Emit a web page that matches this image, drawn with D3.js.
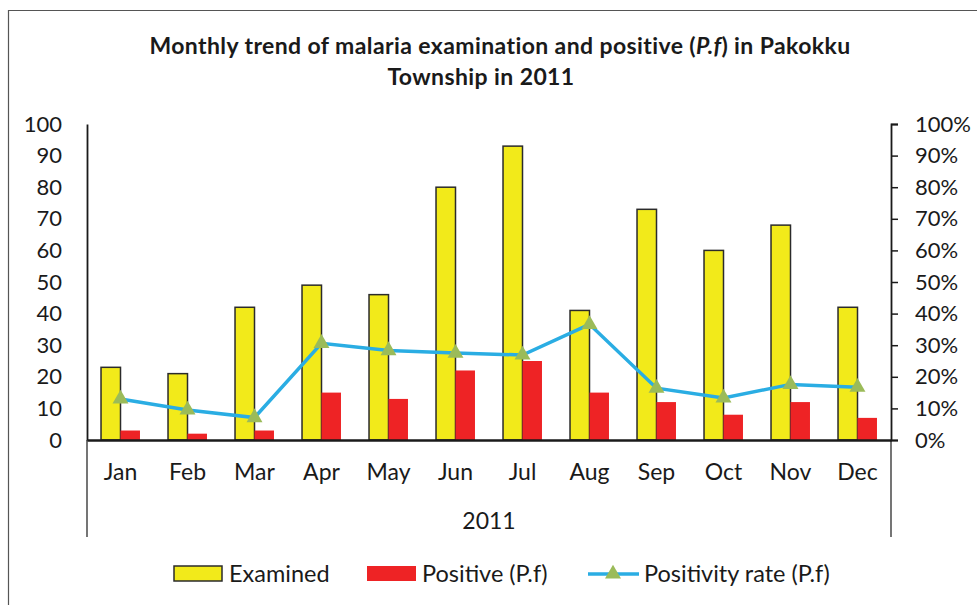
<!DOCTYPE html>
<html>
<head>
<meta charset="utf-8">
<script src="https://cdn.jsdelivr.net/npm/d3@7"></script>
<style>
  body { margin: 0; background: #fff; }
  text { font-family: Lato, "Open Sans", sans-serif; fill: #1a1a1a; }
</style>
</head>
<body>
<div id="chart"></div>
<script>
// chart data
var months = ["Jan", "Feb", "Mar", "Apr", "May", "Jun", "Jul", "Aug", "Sep", "Oct", "Nov", "Dec"];
var examined = [23, 21, 42, 49, 46, 80, 93, 41, 73, 60, 68, 42];
var positive = [3, 2, 3, 15, 13, 22, 25, 15, 12, 8, 12, 7];
var positivityRate = [13.0, 9.5, 7.1, 30.6, 28.3, 27.5, 26.9, 36.6, 16.4, 13.3, 17.6, 16.7];
var leftTicks = [0, 10, 20, 30, 40, 50, 60, 70, 80, 90, 100];
var rightTicks = [0, 10, 20, 30, 40, 50, 60, 70, 80, 90, 100];
var yearLabel = "2011";
var seriesNames = ["Examined", "Positive (P.f)", "Positivity rate (P.f)"];

var width = 977, height = 605;
var margin = {top: 124, right: 86, bottom: 165, left: 87};

var svg = d3.select("#chart").append("svg")
    .attr("width", width)
    .attr("height", height);

// outer frame (top and left edges only are visible)
svg.append("path")
    .attr("d", "M8.5," + height + "V10.5H" + width)
    .attr("fill", "none")
    .attr("stroke", "#555")
    .attr("stroke-width", 1.2);

// title
var title = svg.append("text")
    .attr("text-anchor", "middle")
    .style("font-size", "23px")
    .style("letter-spacing", "0.4px")
    .style("font-weight", "bold");
var t1 = title.append("tspan").attr("x", 500).attr("y", 54);
t1.append("tspan").text("Monthly trend of malaria examination and positive (");
t1.append("tspan").style("font-style", "italic").text("P.f");
t1.append("tspan").text(") in Pakokku");
title.append("tspan").attr("x", 481).attr("y", 85).text("Township in 2011");

// scales
var x = d3.scaleBand()
    .domain(months)
    .range([margin.left, width - margin.right]);

var xSub = d3.scaleBand()
    .domain(["examined", "positive"])
    .range([0, x.bandwidth()])
    .paddingInner(0)
    .paddingOuter(0.72);

var y = d3.scaleLinear()
    .domain([0, 100])
    .range([height - margin.bottom, margin.top]);

var y2 = d3.scaleLinear()
    .domain([0, 100])
    .range(y.range());

// bars
var groups = svg.append("g").selectAll("g")
    .data(months)
    .enter().append("g")
    .attr("transform", function(d) { return "translate(" + x(d) + ",0)"; });

groups.append("rect")
    .attr("x", xSub("examined"))
    .attr("y", function(d, i) { return y(examined[i]); })
    .attr("width", xSub.bandwidth())
    .attr("height", function(d, i) { return y(0) - y(examined[i]); })
    .attr("fill", "#F2EA1A")
    .attr("stroke", "#2b2b2b")
    .attr("stroke-width", 1.5);

groups.append("rect")
    .attr("x", xSub("positive"))
    .attr("y", function(d, i) { return y(positive[i]); })
    .attr("width", xSub.bandwidth())
    .attr("height", function(d, i) { return y(0) - y(positive[i]); })
    .attr("fill", "#EE2325");

// left axis
var leftAxis = svg.append("g")
    .attr("transform", "translate(" + margin.left + ",0)")
    .call(d3.axisLeft(y).tickValues(leftTicks).tickSize(0).tickPadding(25));
leftAxis.selectAll("text").style("font-size", "22px").attr("fill", "#1a1a1a");
leftAxis.select(".domain").attr("stroke", "#1a1a1a").attr("stroke-width", 1.8);

// right axis
var rightAxis = svg.append("g")
    .attr("transform", "translate(" + (width - margin.right) + ",0)")
    .call(d3.axisRight(y2).tickValues(rightTicks).tickSize(7).tickSizeOuter(7).tickPadding(17)
      .tickFormat(function(d) { return d + "%"; }));
rightAxis.selectAll("text").style("font-size", "22px").attr("fill", "#1a1a1a");
rightAxis.selectAll("line").attr("stroke", "#1a1a1a").attr("stroke-width", 1.5);
rightAxis.select(".domain").attr("stroke", "#1a1a1a").attr("stroke-width", 1.8);

// bottom axis
var bottomAxis = svg.append("g")
    .attr("transform", "translate(0," + y(0) + ")")
    .call(d3.axisBottom(x).tickSize(0).tickPadding(24));
bottomAxis.selectAll("text").style("font-size", "23px").attr("fill", "#1a1a1a");
bottomAxis.select(".domain").attr("stroke", "#1a1a1a").attr("stroke-width", 2.5);

// group (year) level of the category axis
svg.append("g").selectAll("line")
    .data(x.range())
    .enter().append("line")
    .attr("x1", function(d) { return d; })
    .attr("x2", function(d) { return d; })
    .attr("y1", y(0))
    .attr("y2", y(0) + 97)
    .attr("stroke", "#1a1a1a")
    .attr("stroke-width", 1.2);

svg.append("text")
    .attr("x", (x.range()[0] + x.range()[1]) / 2)
    .attr("y", y(0) + 89)
    .attr("text-anchor", "middle")
    .style("font-size", "23px")
    .text(yearLabel);

// positivity rate line
var line = d3.line()
    .x(function(d, i) { return x(months[i]) + x.bandwidth() / 2; })
    .y(function(d) { return y2(d); });

svg.append("path")
    .datum(positivityRate)
    .attr("d", line)
    .attr("fill", "none")
    .attr("stroke", "#2AADE3")
    .attr("stroke-width", 3.5);

var triangle = d3.symbol().type(d3.symbolTriangle).size(110);

svg.append("g").selectAll("path")
    .data(positivityRate)
    .enter().append("path")
    .attr("d", triangle)
    .attr("transform", function(d, i) {
      return "translate(" + (x(months[i]) + x.bandwidth() / 2) + "," + y2(d) + ")";
    })
    .attr("fill", "#9BBB59");

// legend
var legendY = 573;
var legendX = [174, 367, 588];

var legend = svg.append("g");

legend.append("rect")
    .attr("x", legendX[0]).attr("y", legendY - 7)
    .attr("width", 48).attr("height", 15)
    .attr("fill", "#F2EA1A")
    .attr("stroke", "#2b2b2b")
    .attr("stroke-width", 1.5);

legend.append("rect")
    .attr("x", legendX[1]).attr("y", legendY - 7)
    .attr("width", 49).attr("height", 15)
    .attr("fill", "#EE2325");

legend.append("line")
    .attr("x1", legendX[2]).attr("x2", legendX[2] + 51)
    .attr("y1", legendY + 1).attr("y2", legendY + 1)
    .attr("stroke", "#2AADE3")
    .attr("stroke-width", 3.5);

legend.append("path")
    .attr("d", triangle)
    .attr("transform", "translate(" + (legendX[2] + 25) + "," + (legendY + 1) + ")")
    .attr("fill", "#9BBB59");

legend.selectAll("text.name")
    .data(seriesNames)
    .enter().append("text")
    .attr("class", "name")
    .attr("x", function(d, i) { return legendX[i] + (i === 2 ? 56 : 55); })
    .attr("y", legendY + 9)
    .style("font-size", "23.5px")
    .text(function(d) { return d; });
</script>
</body>
</html>
